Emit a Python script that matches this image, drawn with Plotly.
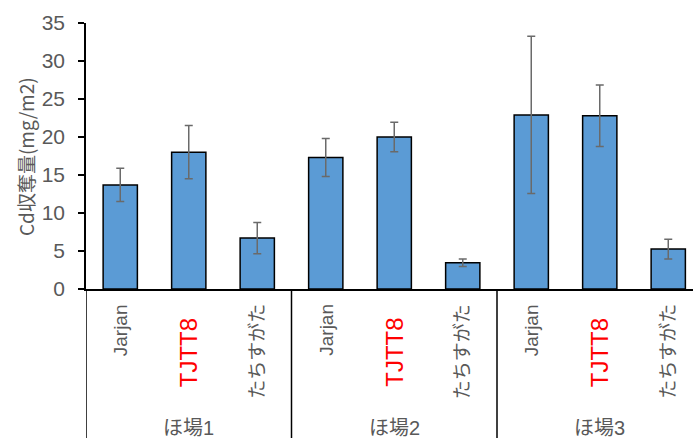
import plotly.graph_objects as go

# ---- data ----
fields = ["ほ場1", "ほ場2", "ほ場3"]
cultivars = ["Jarjan", "TJTT8", "たちすがた"]
values = [13.7, 18.0, 6.7, 17.3, 20.0, 3.45, 22.9, 22.8, 5.25]
errors = [2.2, 3.5, 2.05, 2.5, 1.95, 0.5, 10.35, 4.05, 1.3]
highlight = "TJTT8"
y_title = "Cd収奪量(mg/m2)"
y_ticks = [0, 5, 10, 15, 20, 25, 30, 35]

W, H = 693, 438
ML, MT, MB, MR = 86, 23, 149, 0
PH = H - MT - MB
PW = W - ML - MR
CAT_PX = 68.5

def py(p):
    """pixel row -> paper y"""
    return (H - MB - p) / PH

def px(p):
    return (p - ML) / PW

n = len(fields) * len(cultivars)
xs = list(range(n))
labels = [c for f in fields for c in cultivars]

TXT = "#595959"
FONT = "Liberation Sans, Arial, Noto Sans CJK JP, sans-serif"
FONT_JP = "Noto Sans CJK JP, Liberation Sans, sans-serif"

fig = go.Figure()
fig.add_trace(go.Bar(
    x=xs, y=values, width=0.5,
    marker=dict(color="#5B9BD5", line=dict(color="#000000", width=1.5)),
    error_y=dict(type="data", array=errors, visible=True,
                 color="#6A6A6A", thickness=1.5, width=4),
    showlegend=False,
))

annotations = []
for i, lab in enumerate(labels):
    if lab == highlight:
        annotations.append(dict(x=i, xref="x", y=py(316), yref="paper",
                                text=lab, textangle=-90, showarrow=False,
                                xanchor="center", yanchor="top",
                                font=dict(family=FONT, size=24, color="#FF0000")))
    else:
        annotations.append(dict(x=i, xref="x", y=py(302), yref="paper",
                                text=lab, textangle=-90, showarrow=False,
                                xanchor="center", yanchor="top",
                                font=dict(family=FONT, size=19, color=TXT)))
for g, f in enumerate(fields):
    annotations.append(dict(x=g * len(cultivars) + (len(cultivars) - 1) / 2, xref="x",
                            y=py(428), yref="paper", text=f, showarrow=False,
                            xanchor="center", yanchor="middle",
                            font=dict(family=FONT, size=20, color=TXT)))
annotations.append(dict(x=px(25), xref="paper", y=py(157), yref="paper",
                        text=y_title, textangle=-90, showarrow=False,
                        xanchor="center", yanchor="middle",
                        font=dict(family=FONT_JP, size=19, color=TXT)))

shapes = []
for g in range(len(fields)):
    xb = g * len(cultivars) - 0.5
    shapes.append(dict(type="line", xref="x", yref="paper", x0=xb, x1=xb,
                       y0=0, y1=py(H), line=dict(color="#000000", width=1.5)))

fig.update_layout(
    width=W, height=H,
    margin=dict(l=ML, r=MR, t=MT, b=MB, pad=0),
    paper_bgcolor="white", plot_bgcolor="white",
    bargap=0.5,
    xaxis=dict(range=[-0.5, -0.5 + PW / CAT_PX], showticklabels=False,
               ticks="", showgrid=False, zeroline=False,
               showline=True, linecolor="#000000", linewidth=1.5),
    yaxis=dict(range=[0, 35], tickvals=y_ticks, ticks="outside", ticklen=6,
               tickcolor="#000000", tickwidth=1.5,
               showgrid=False, zeroline=False,
               showline=True, linecolor="#000000", linewidth=1.5,
               tickfont=dict(family=FONT, size=21, color=TXT),
               ticklabelstandoff=9),
    annotations=annotations,
    shapes=shapes,
)

fig.write_html("out.html")
